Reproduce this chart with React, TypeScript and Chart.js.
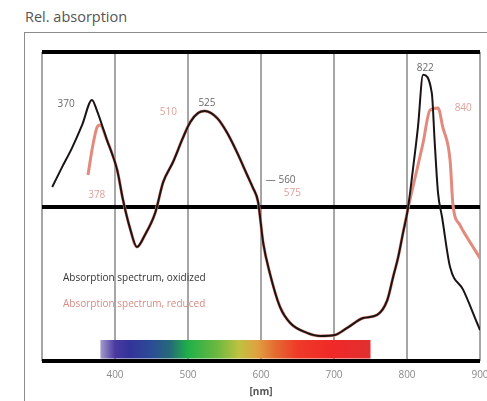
import React, { useEffect, useRef } from "react";
import { Chart, registerables } from "chart.js";

Chart.register(...registerables);

// ---- data ----
const wavelengthNmBlack = [314, 327, 341, 355, 368.5, 375, 389, 403, 411, 420.5, 430, 441, 455, 466, 479.5, 493, 503, 514, 523, 540, 553, 567, 581, 589, 596, 603, 612, 626, 640, 663, 681, 701, 718, 740, 759, 773, 781, 788, 794.5, 801, 808, 815, 822, 834, 838, 842.5, 848, 859, 877, 896, 900];
const absorbanceBlack = [56.3, 62.5, 68.9, 76.4, 84.5, 81.2, 71.5, 61.8, 52.1, 43.0, 36.9, 40.8, 47.9, 57.9, 64.4, 72.2, 77.3, 80.3, 80.9, 78.6, 74.1, 67.6, 60.2, 56.0, 51.5, 38.2, 28.5, 17.5, 12.3, 9.1, 8.1, 8.4, 10.7, 13.9, 14.9, 19.7, 27.2, 33.7, 41.4, 48.9, 61.8, 75.7, 92.6, 86.7, 70.6, 54.4, 46.6, 30.4, 23.0, 12.3, 10.0];

const wavelengthNmRed = [363, 368.5, 375, 379.5, 389, 403, 411, 420.5, 430, 441, 455, 466, 479.5, 493, 503, 514, 523, 540, 553, 567, 581, 589, 596, 603, 612, 626, 640, 663, 681, 701, 718, 740, 759, 773, 781, 788, 794.5, 801, 804, 822, 831.5, 842.5, 849, 859, 863, 872.6, 882, 900];
const absorbanceRed = [60.2, 68.3, 75.4, 76.4, 71.5, 61.8, 52.1, 43.0, 36.9, 40.8, 47.9, 57.9, 64.4, 72.2, 77.3, 80.3, 80.9, 78.6, 74.1, 67.6, 60.2, 56.0, 51.5, 38.2, 28.5, 17.5, 12.3, 9.1, 8.1, 8.4, 10.7, 13.9, 14.9, 19.7, 27.2, 33.7, 41.4, 48.9, 52.1, 70.6, 81.2, 81.9, 75.7, 65.0, 50.5, 44.0, 40.1, 33.3];

const xTickLabels = ["", "400", "500", "600", "700", "800", "900"];
const xAxisTitle = "[nm]";
const chartTitle = "Rel. absorption";
const legendBlack = "Absorption spectrum, oxidized";
const legendRed = "Absorption spectrum, reduced";

const peakLabelText = ["370", "378", "510", "525", "— 560", "575", "822", "840"];
const peakLabelNm = [333, 375, 473, 526, 627, 643, 825, 877];
const peakLabelValue = [83.2, 53.7, 80.6, 83.5, 58.6, 54.4, 94.8, 81.9];
const peakLabelSeries = ["black", "red", "red", "black", "black", "red", "black", "red"];

const spectrumStopNm = [380, 400, 420, 450, 475, 500, 540, 570, 595, 620, 650, 700, 750];
const spectrumStopColor = ["#a49ccc", "#4a3aa0", "#33339a", "#2c4c96", "#246a78", "#20b048", "#6cb840", "#c0c240", "#e0a040", "#e46a30", "#ee3a28", "#f02828", "#e03030"];

const BLACK = "#1c1414";
const RED = "#e38a7e";

const spectrumPlugin = {
  id: "spectrumBar",
  beforeDatasetsDraw(chart: any) {
    const { ctx, scales } = chart;
    const xs = scales.x, ys = scales.y;
    const x1 = xs.getPixelForValue(spectrumStopNm[0]);
    const x2 = xs.getPixelForValue(spectrumStopNm[spectrumStopNm.length - 1]);
    const yTop = ys.getPixelForValue(6.8);
    const yBot = ys.getPixelForValue(0.8);
    const g = ctx.createLinearGradient(x1, 0, x2, 0);
    spectrumStopNm.forEach((nm, i) => {
      g.addColorStop((nm - spectrumStopNm[0]) / (spectrumStopNm[spectrumStopNm.length - 1] - spectrumStopNm[0]), spectrumStopColor[i]);
    });
    ctx.save();
    ctx.fillStyle = g;
    ctx.fillRect(x1, yTop, x2 - x1, yBot - yTop);
    ctx.restore();
  },
  afterDatasetsDraw(chart: any) {
    const { ctx, scales } = chart;
    ctx.save();
    ctx.font = "10px 'Open Sans', sans-serif";
    ctx.textAlign = "center";
    ctx.textBaseline = "middle";
    peakLabelText.forEach((t, i) => {
      ctx.fillStyle = peakLabelSeries[i] === "red" ? "#e2a09a" : "#6a6a6a";
      ctx.fillText(t, scales.x.getPixelForValue(peakLabelNm[i]), scales.y.getPixelForValue(peakLabelValue[i]));
    });
    ctx.restore();
  },
};

export default function App() {
  const ref = useRef<HTMLCanvasElement>(null);
  useEffect(() => {
    if (!ref.current) return;
    const chart = new Chart(ref.current, {
      type: "line",
      data: {
        datasets: [
          {
            label: legendBlack,
            data: wavelengthNmBlack.map((x, i) => ({ x, y: absorbanceBlack[i] })),
            borderColor: BLACK,
            borderWidth: 2,
            pointRadius: 0,
            cubicInterpolationMode: "monotone",
            fill: false,
          },
          {
            label: legendRed,
            data: wavelengthNmRed.map((x, i) => ({ x, y: absorbanceRed[i] })),
            borderColor: RED,
            borderWidth: 3,
            pointRadius: 0,
            cubicInterpolationMode: "monotone",
            fill: false,
          },
        ],
      },
      options: {
        animation: false,
        responsive: false,
        devicePixelRatio: 1,
        layout: { padding: { left: 42, right: 7, top: 52, bottom: 0 } },
        plugins: { legend: { display: false }, tooltip: { enabled: false } },
        scales: {
          x: {
            type: "linear",
            min: 300,
            max: 900,
            ticks: {
              stepSize: 100,
              padding: 8,
              color: "#8a8a8a",
              font: { family: "'Open Sans', sans-serif", size: 10 },
              callback: (_v: any, i: number) => xTickLabels[i],
              maxRotation: 0,
            },
            grid: { color: "#a6a6a6", lineWidth: 2, drawTicks: false, z: -2 },
            border: { display: false },
            title: {
              display: true,
              text: xAxisTitle,
              color: "#555",
              font: { family: "'Open Sans', sans-serif", size: 10, weight: "bold" },
              padding: { top: 0, bottom: 3 },
            },
            afterFit: (s: any) => {
              s.height = 40;
              s.paddingLeft = 0;
              s.paddingRight = 0;
            },
          },
          y: {
            min: 0,
            max: 100,
            ticks: { stepSize: 50, display: false },
            grid: { color: "#000", lineWidth: 4, drawTicks: false, z: -1 },
            border: { display: false },
            afterFit: (s: any) => {
              s.width = 0;
            },
          },
        },
      },
      plugins: [spectrumPlugin],
    } as any);
    return () => chart.destroy();
  }, []);

  return (
    <div style={{ position: "fixed", left: 0, top: 0, width: 487, height: 401, background: "#fff", overflow: "hidden", fontFamily: "'Open Sans', sans-serif" }}>
      <div style={{ position: "absolute", left: 25, top: 8, fontSize: 14.5, lineHeight: "18px", color: "#555" }}>{chartTitle}</div>
      <div style={{ position: "absolute", left: 24, top: 32, width: 470, height: 380, borderLeft: "1px solid #8c8c8c", borderTop: "1px solid #8c8c8c" }} />
      <canvas ref={ref} width={487} height={401} style={{ position: "absolute", left: 0, top: 0 }} />
      <div style={{ position: "absolute", left: 63, top: 270, fontSize: 10, lineHeight: "14px", color: "#333", whiteSpace: "nowrap" }}>{legendBlack}</div>
      <div style={{ position: "absolute", left: 63, top: 296, fontSize: 10, lineHeight: "14px", color: "#d98b85", whiteSpace: "nowrap" }}>{legendRed}</div>
    </div>
  );
}
